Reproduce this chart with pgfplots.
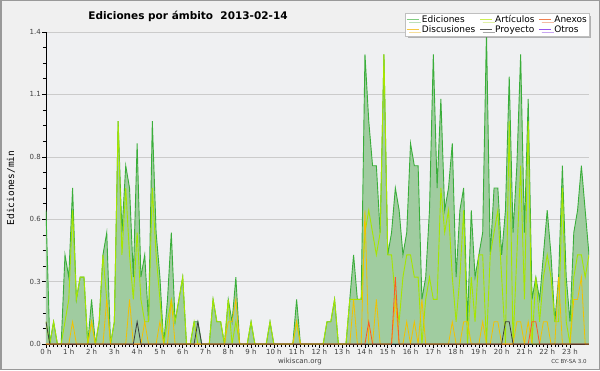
\documentclass[border=0pt]{standalone}
\usepackage{fontspec}
\setmainfont{DejaVu Sans}
\newfontfamily\monofont{DejaVu Sans Mono}
\usepackage{pgfplots}
\usepackage{pgfplotstable}
\pgfplotsset{compat=1.18}
\usetikzlibrary{shadows}
\definecolor{bgout}{HTML}{F0F0F0}
\definecolor{plotbg}{HTML}{EFF0F2}
\definecolor{gridc}{HTML}{CBCBCB}
\definecolor{totc}{HTML}{3AAE3A}
\definecolor{fillc}{HTML}{A0CCA0}
\definecolor{artc}{HTML}{A6E600}
\definecolor{discc}{HTML}{F2C200}
\definecolor{anexc}{HTML}{FF5A1E}
\definecolor{proyc}{HTML}{3C3C3C}
\definecolor{legEd}{HTML}{80CC80}
\definecolor{legArt}{HTML}{CCEE55}
\definecolor{legAnex}{HTML}{F08050}
\definecolor{legDisc}{HTML}{F5C842}
\definecolor{legProy}{HTML}{555555}
\definecolor{legOtros}{HTML}{9955EE}
\pgfplotstableread{
i T A D N P
0 0.6 0.1 0 0 0.1
1 0 0 0 0 0
2 0.1 0.1 0 0 0
3 0 0 0 0 0
4 0 0 0 0 0
5 0.4 0.1 0 0 0
6 0.3 0.2 0 0 0
7 0.7 0.6 0.1 0 0
8 0.2 0.2 0 0 0
9 0.3 0.3 0 0 0
10 0.3 0.3 0 0 0
11 0 0 0 0 0
12 0.2 0.1 0.1 0 0
13 0 0 0 0 0
14 0.1 0.1 0 0 0
15 0.4 0.4 0 0 0
16 0.5 0.2 0.2 0 0
17 0 0 0 0 0
18 0.1 0.1 0 0 0
19 1.0 1.0 0 0 0
20 0.5 0.4 0 0 0
21 0.8 0.7 0 0 0
22 0.7 0.4 0.2 0 0
23 0.3 0.2 0 0 0
24 0.9 0.5 0 0 0.1
25 0.3 0.2 0 0 0
26 0.4 0.1 0.1 0 0
27 0.1 0.1 0 0 0
28 1.0 0.7 0 0 0
29 0.5 0.4 0 0 0
30 0.3 0.2 0.1 0 0
31 0 0 0 0 0
32 0.2 0.1 0 0 0
33 0.5 0.2 0.2 0 0
34 0.1 0.1 0 0 0
35 0.2 0.2 0 0 0
36 0.3 0.3 0 0 0
37 0 0 0 0 0
38 0 0 0 0 0
39 0.1 0.1 0 0 0
40 0.1 0 0 0 0.1
41 0 0 0 0 0
42 0 0 0 0 0
43 0 0 0 0 0
44 0.2 0.2 0 0 0
45 0.1 0.1 0 0 0
46 0.1 0.1 0 0 0
47 0 0 0 0 0
48 0.2 0.2 0.1 0 0
49 0.1 0 0.1 0 0
50 0.3 0.1 0.2 0 0
51 0 0 0 0 0
52 0 0 0 0 0
53 0 0 0 0 0
54 0.1 0.1 0 0 0
55 0 0 0 0 0
56 0 0 0 0 0
57 0 0 0 0 0
58 0 0 0 0 0
59 0.1 0.1 0 0 0
60 0 0 0 0 0
61 0 0 0 0 0
62 0 0 0 0 0
63 0 0 0 0 0
64 0 0 0 0 0
65 0 0 0 0 0
66 0.2 0.1 0.1 0 0
67 0 0 0 0 0
68 0 0 0 0 0
69 0 0 0 0 0
70 0 0 0 0 0
71 0 0 0 0 0
72 0 0 0 0 0
73 0 0 0 0 0
74 0.1 0.1 0 0 0
75 0.1 0.1 0 0 0
76 0.2 0.2 0 0 0
77 0 0 0 0 0
78 0 0 0 0 0
79 0 0 0 0 0
80 0.2 0.2 0 0 0
81 0.4 0.2 0.2 0 0
82 0.2 0.2 0 0 0
83 0.2 0.2 0 0 0
84 1.3 0.5 0.6 0 0
85 1.0 0.6 0 0.1 0
86 0.8 0.5 0 0 0
87 0.8 0.4 0.2 0 0
88 0.5 0.5 0 0 0
89 1.3 1.3 0 0 0
90 0.4 0.4 0 0 0
91 0.5 0.4 0 0 0
92 0.7 0.2 0.2 0.3 0
93 0.6 0.1 0 0 0
94 0.4 0.3 0 0 0
95 0.5 0.4 0.1 0 0
96 0.9 0.4 0 0 0
97 0.8 0.3 0.1 0 0
98 0.8 0.3 0 0 0
99 0.2 0 0.2 0 0
100 0.3 0.2 0 0 0
101 0.6 0.3 0 0 0
102 1.3 0.2 0 0 0
103 0.7 0.2 0 0 0
104 1.1 0.7 0 0 0
105 0.6 0.5 0 0 0
106 0.7 0.6 0 0 0
107 0.9 0.3 0.1 0 0
108 0.3 0.1 0 0 0
109 0.6 0.3 0 0 0
110 0.7 0.6 0.1 0 0
111 0.1 0 0.1 0 0
112 0.6 0.3 0 0 0
113 0.3 0.1 0 0 0
114 0.4 0.4 0 0 0
115 0.5 0.4 0.1 0 0
116 1.4 0 0 0 0
117 0.4 0.4 0 0 0
118 0.7 0.5 0.1 0 0
119 0.7 0.6 0.1 0 0
120 0.4 0.3 0 0 0
121 0.6 0 0 0 0.1
122 1.2 1.0 0 0 0.1
123 0.5 0 0 0 0
124 0.8 0.4 0.1 0 0
125 1.3 0.8 0.1 0 0
126 0.5 0.2 0 0 0
127 1.1 1.0 0.1 0 0
128 0.2 0 0 0.1 0
129 0.3 0.3 0 0.1 0
130 0.2 0.1 0 0 0
131 0.4 0.3 0.1 0 0
132 0.6 0.4 0.1 0 0
133 0.4 0.3 0 0 0
134 0.1 0.1 0 0 0
135 0.3 0.1 0.3 0 0
136 0.8 0.7 0 0 0
137 0.3 0.1 0 0 0
138 0.1 0 0 0 0
139 0.5 0.3 0.2 0 0
140 0.6 0.4 0.2 0 0
141 0.8 0.4 0.3 0 0
142 0.6 0.3 0 0 0
143 0.4 0.4 0 0 0
}\data
\begin{document}
\begin{tikzpicture}[x=1pt,y=1pt]
\fill[bgout] (0,0) rectangle (600,370);
\draw[black!40, line width=1.5pt] (0.75,0.75) rectangle (599.25,369.25);
\begin{axis}[
  at={(46pt,26pt)}, anchor=south west,
  scale only axis, width=543pt, height=312pt,
  xmin=0, xmax=23.8333, ymin=0, ymax=1.4,
  axis x line*=bottom, axis y line*=left,
  axis line style={black, line width=0.8pt, -},
  xtick={0,...,23},
  xticklabels={0 h,1 h,2 h,3 h,4 h,5 h,6 h,7 h,8 h,9 h,10 h,11 h,12 h,13 h,14 h,15 h,16 h,17 h,18 h,19 h,20 h,21 h,22 h,23 h},
  minor x tick num=5,
  ytick={0,0.28,0.56,0.84,1.12,1.4},
  yticklabels={0.0,0.3,0.6,0.8,1.1,1.4},
  minor y tick num=3,
  tick align=outside, major tick length=4pt, minor tick length=3pt,
  tick style={black, line width=0.6pt},
  ymajorgrids, grid style={gridc, line width=0.6pt},
  axis background/.style={fill=plotbg},
  ticklabel style={font=\fontsize{7}{8}\selectfont, text=black!75},
  xticklabel style={inner sep=1pt},
  yticklabel style={inner sep=1pt},
  legend columns=3,
  legend image code/.code={\draw[#1, line width=0.8pt] (0pt,0pt) -- (12pt,0pt);},
  legend style={at={(0.661,1.061)}, anchor=north west, draw=black!25, fill=white,
    font=\fontsize{9}{9}\selectfont, inner sep=1.2pt,
    nodes={inner sep=0.8pt},
    drop shadow={shadow xshift=2.5pt, shadow yshift=-2.5pt, fill=black!55},
    /tikz/every odd column/.append style={column sep=2pt},
    /tikz/every even column/.append style={column sep=3.5pt}},
  legend cell align=left,
]
\addplot[draw=none, fill=fillc, forget plot] table[x expr=\thisrow{i}/6, y=T] {\data} \closedcycle;
\addplot[totc, line width=0.9pt, forget plot] table[x expr=\thisrow{i}/6, y=T] {\data};
\addplot[artc, line width=0.9pt, forget plot] table[x expr=\thisrow{i}/6, y=A] {\data};
\addplot[discc, line width=0.8pt, forget plot] table[x expr=\thisrow{i}/6, y=D] {\data};
\addplot[anexc, line width=0.8pt, forget plot] table[x expr=\thisrow{i}/6, y=N] {\data};
\addplot[proyc, line width=0.8pt, forget plot] table[x expr=\thisrow{i}/6, y=P] {\data};
\addlegendimage{legEd}\addlegendentry{Ediciones}
\addlegendimage{legArt}\addlegendentry{Artículos}
\addlegendimage{legAnex}\addlegendentry{Anexos}
\addlegendimage{legDisc}\addlegendentry{Discusiones}
\addlegendimage{legProy}\addlegendentry{Proyecto}
\addlegendimage{legOtros}\addlegendentry{Otros}
\end{axis}
\node[font=\bfseries\fontsize{10.5}{12}\selectfont] at (188,354) {Ediciones por ámbito\ \ 2013-02-14};
\node[font=\monofont\fontsize{9.5}{10}\selectfont, rotate=90] at (11,182) {Ediciones/min};
\node[font=\fontsize{7}{8}\selectfont, text=black!75] at (300,8) {wikiscan.org};
\node[font=\fontsize{5.5}{6}\selectfont, text=black!75] at (569,9) {CC BY-SA 3.0};
\end{tikzpicture}
\end{document}
